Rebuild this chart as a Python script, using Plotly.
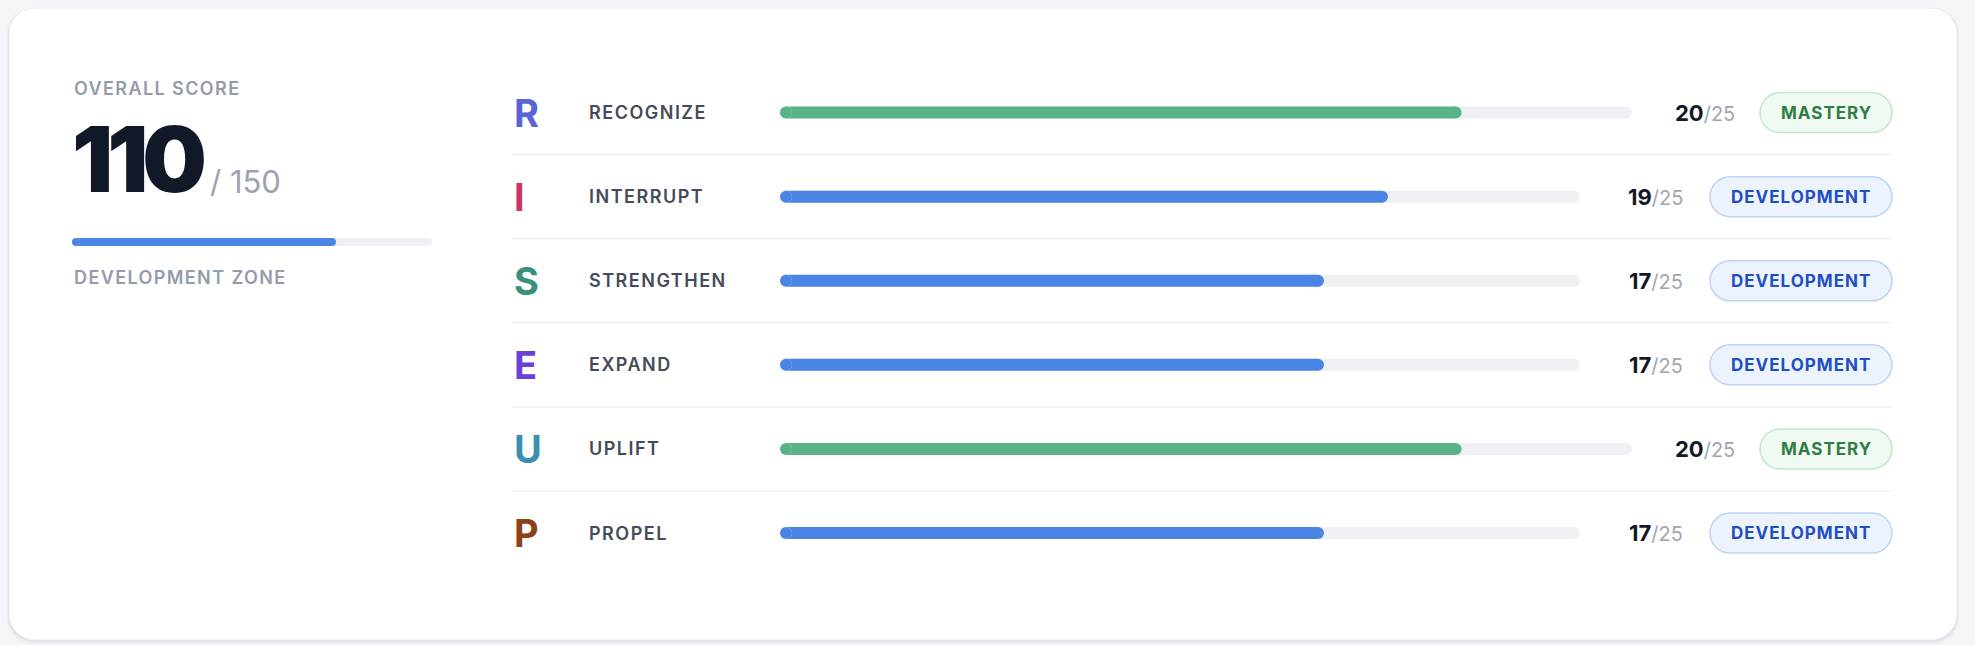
import plotly.graph_objects as go

# ---------------- data ----------------
letters = ["R", "I", "S", "E", "U", "P"]
dimensions = ["RECOGNIZE", "INTERRUPT", "STRENGTHEN", "EXPAND", "UPLIFT", "PROPEL"]
scores = [20, 19, 17, 17, 20, 17]
max_score = 25
levels = ["MASTERY", "DEVELOPMENT", "DEVELOPMENT", "DEVELOPMENT", "MASTERY", "DEVELOPMENT"]
overall_score = 110
overall_max = 150
overall_label = "OVERALL SCORE"
zone_label = "DEVELOPMENT ZONE"

# ---------------- styles ----------------
W, H = 1975, 645
FONT = "Inter"
BG = "#f4f5f8"
letter_colors = ["#5b64d6", "#c8356c", "#3a8f7d", "#6a40d6", "#3a8fb0", "#8b4418"]
level_style = {
    "MASTERY": dict(fill="#58b486", bg="#effaf2", border="#bfe7ca", text="#2f7d43",
                    axis="x2", track_end=1632, score_right=1737, badge_left=1760),
    "DEVELOPMENT": dict(fill="#4a84e4", bg="#edf3fd", border="#bed3f3", text="#1f4fc2",
                        axis="x3", track_end=1580, score_right=1685, badge_left=1710),
}
TRACK = "#eef0f3"
ROW_TOP, ROW_H = 70.5, 84.1
N = len(dimensions)
BAR_X0 = 780
BAR_T = 12          # bar thickness, px
BADGE_RIGHT = 1892
OV_X0, OV_X1, OV_T = 72, 432, 8


def px(x):
    return x / W


def py(y):
    return 1 - y / H


def row_c(i):
    return ROW_TOP + (i + 0.5) * ROW_H


def spaced(t, ls):
    return f"<span style='letter-spacing:{ls}px'>{t}</span>"


def rrect(x0, y0, x1, y1, r):
    k = 0.5523 * r
    pts = [
        f"M{px(x0 + r)},{py(y0)}",
        f"L{px(x1 - r)},{py(y0)}",
        f"C{px(x1 - r + k)},{py(y0)} {px(x1)},{py(y0 + r - k)} {px(x1)},{py(y0 + r)}",
        f"L{px(x1)},{py(y1 - r)}",
        f"C{px(x1)},{py(y1 - r + k)} {px(x1 - r + k)},{py(y1)} {px(x1 - r)},{py(y1)}",
        f"L{px(x0 + r)},{py(y1)}",
        f"C{px(x0 + r - k)},{py(y1)} {px(x0)},{py(y1 - r + k)} {px(x0)},{py(y1 - r)}",
        f"L{px(x0)},{py(y0 + r)}",
        f"C{px(x0)},{py(y0 + r - k)} {px(x0 + r - k)},{py(y0)} {px(x0 + r)},{py(y0)}",
        "Z",
    ]
    return " ".join(pts)


fig = go.Figure()


def pill(values, ys, color, xaxis, yaxis, u, thick, width):
    """A bar from 0 to value with fully rounded ends: a bar body inset by the
    cap radius plus a round cap at each end."""
    r = thick / 2 * u
    fig.add_trace(go.Bar(
        x=[v - 2 * r for v in values], base=[r] * len(values), y=ys, orientation="h",
        xaxis=xaxis, yaxis=yaxis, width=width,
        marker=dict(color=color, line=dict(width=0)),
        hoverinfo="skip", showlegend=False, cliponaxis=False))
    fig.add_trace(go.Scatter(
        x=[r] * len(values) + [v - r for v in values], y=list(ys) + list(ys),
        mode="markers", xaxis=xaxis, yaxis=yaxis,
        marker=dict(color=color, size=thick, line=dict(width=0)),
        hoverinfo="skip", showlegend=False, cliponaxis=False))


# ---------------- row bars ----------------
for lvl, st in level_style.items():
    idx = [i for i in range(N) if levels[i] == lvl]
    ys = [dimensions[i] for i in idx]
    u = max_score / (st["track_end"] - BAR_X0)   # data units per pixel
    pill([max_score] * len(idx), ys, TRACK, st["axis"], "y", u, BAR_T, BAR_T / ROW_H)
    pill([scores[i] for i in idx], ys, st["fill"], st["axis"], "y", u, BAR_T, BAR_T / ROW_H)

# ---------------- overall bar ----------------
uo = overall_max / (OV_X1 - OV_X0)
pill([overall_max], ["overall"], TRACK, "x4", "y4", uo, OV_T, OV_T / 40)
pill([overall_score], ["overall"], "#4a84e4", "x4", "y4", uo, OV_T, OV_T / 40)

hidden = dict(visible=False, showgrid=False, zeroline=False, fixedrange=True)
fig.update_layout(
    width=W, height=H,
    margin=dict(l=0, r=0, t=0, b=0),
    paper_bgcolor=BG, plot_bgcolor="rgba(0,0,0,0)",
    barmode="overlay",
    xaxis=dict(**hidden, domain=[0, 1], range=[0, 1]),
    xaxis2=dict(**hidden, domain=[px(BAR_X0), px(level_style["MASTERY"]["track_end"])],
                range=[0, max_score], anchor="y"),
    xaxis3=dict(**hidden, domain=[px(BAR_X0), px(level_style["DEVELOPMENT"]["track_end"])],
                range=[0, max_score], anchor="y"),
    xaxis4=dict(**hidden, domain=[px(OV_X0), px(OV_X1)], range=[0, overall_max], anchor="y4"),
    yaxis=dict(**hidden, domain=[py(ROW_TOP + N * ROW_H), py(ROW_TOP)],
               categoryorder="array", categoryarray=dimensions, range=[N - 0.5, -0.5],
               anchor="x2"),
    yaxis4=dict(**hidden, domain=[py(262), py(222)], range=[-0.5, 0.5], anchor="x4"),
    showlegend=False,
)

shapes = []
# card shadow + card
for off, op in [(4, 0.03), (2, 0.045), (1, 0.06)]:
    shapes.append(dict(type="path", xref="paper", yref="paper",
                       path=rrect(9 - off / 2, 8, 1957 + off / 2, 640 + off, 26),
                       fillcolor=f"rgba(30,40,60,{op})", line=dict(width=0), layer="below"))
shapes.append(dict(type="path", xref="paper", yref="paper", path=rrect(9, 8, 1957, 640, 26),
                   fillcolor="#ffffff", line=dict(color="#eceef2", width=1), layer="below"))
# separators
for i in range(N - 1):
    yy = ROW_TOP + (i + 1) * ROW_H
    shapes.append(dict(type="line", xref="paper", yref="paper", x0=px(512), x1=px(BADGE_RIGHT),
                       y0=py(yy), y1=py(yy), line=dict(color="#eff0f3", width=1.5), layer="below"))
# badges
for i in range(N):
    st = level_style[levels[i]]
    c = row_c(i)
    shapes.append(dict(type="path", xref="paper", yref="paper",
                       path=rrect(st["badge_left"], c - 20, BADGE_RIGHT, c + 20, 20),
                       fillcolor=st["bg"], line=dict(color=st["border"], width=1.5)))

ann = []
# left panel
ann.append(dict(text=spaced(overall_label, 1.4), x=px(72), y=py(88), xref="paper", yref="paper",
                xanchor="left", yanchor="middle", showarrow=False,
                font=dict(family=FONT, size=18, color="#939cad", weight=600)))
ann.append(dict(text=spaced(str(overall_score), -6), x=px(70), y=py(159), xref="paper", yref="paper",
                xanchor="left", yanchor="middle", showarrow=False,
                font=dict(family=FONT, size=91, color="#111827", weight=900)))
ann.append(dict(text=f"/ {overall_max}", x=px(208), y=py(182), xref="paper", yref="paper",
                xanchor="left", yanchor="middle", showarrow=False,
                font=dict(family=FONT, size=31, color="#9ca3af", weight=400)))
ann.append(dict(text=spaced(zone_label, 1.4), x=px(72), y=py(277), xref="paper", yref="paper",
                xanchor="left", yanchor="middle", showarrow=False,
                font=dict(family=FONT, size=18, color="#939cad", weight=600)))

for i in range(N):
    st = level_style[levels[i]]
    c = row_c(i)
    ann.append(dict(text=letters[i], x=px(512), y=py(c), xref="paper", yref="paper",
                    xanchor="left", yanchor="middle", showarrow=False,
                    font=dict(family=FONT, size=38, color=letter_colors[i], weight=700)))
    ann.append(dict(text=spaced(dimensions[i], 1.5), x=px(587), y=py(c), xref="paper", yref="paper",
                    xanchor="left", yanchor="middle", showarrow=False,
                    font=dict(family=FONT, size=18, color="#454b59", weight=600)))
    ann.append(dict(text=f"<b>{scores[i]}</b><span style='font-size:20px;color:#a0a6b1;font-weight:400'>/{max_score}</span>",
                    x=px(st["score_right"]), y=py(c), xref="paper", yref="paper",
                    xanchor="right", yanchor="middle", showarrow=False,
                    font=dict(family=FONT, size=22, color="#111827")))
    ann.append(dict(text=spaced(levels[i], 1), x=px((st["badge_left"] + BADGE_RIGHT) / 2), y=py(c),
                    xref="paper", yref="paper", xanchor="center", yanchor="middle",
                    showarrow=False,
                    font=dict(family=FONT, size=17, color=st["text"], weight=700)))

fig.update_layout(shapes=shapes, annotations=ann)
fig.write_html(
    "out.html",
    config={"displayModeBar": False},
    post_script=f"document.body.style.margin='0px';document.body.style.background='{BG}';"
                "document.body.style.overflow='hidden';",
)
